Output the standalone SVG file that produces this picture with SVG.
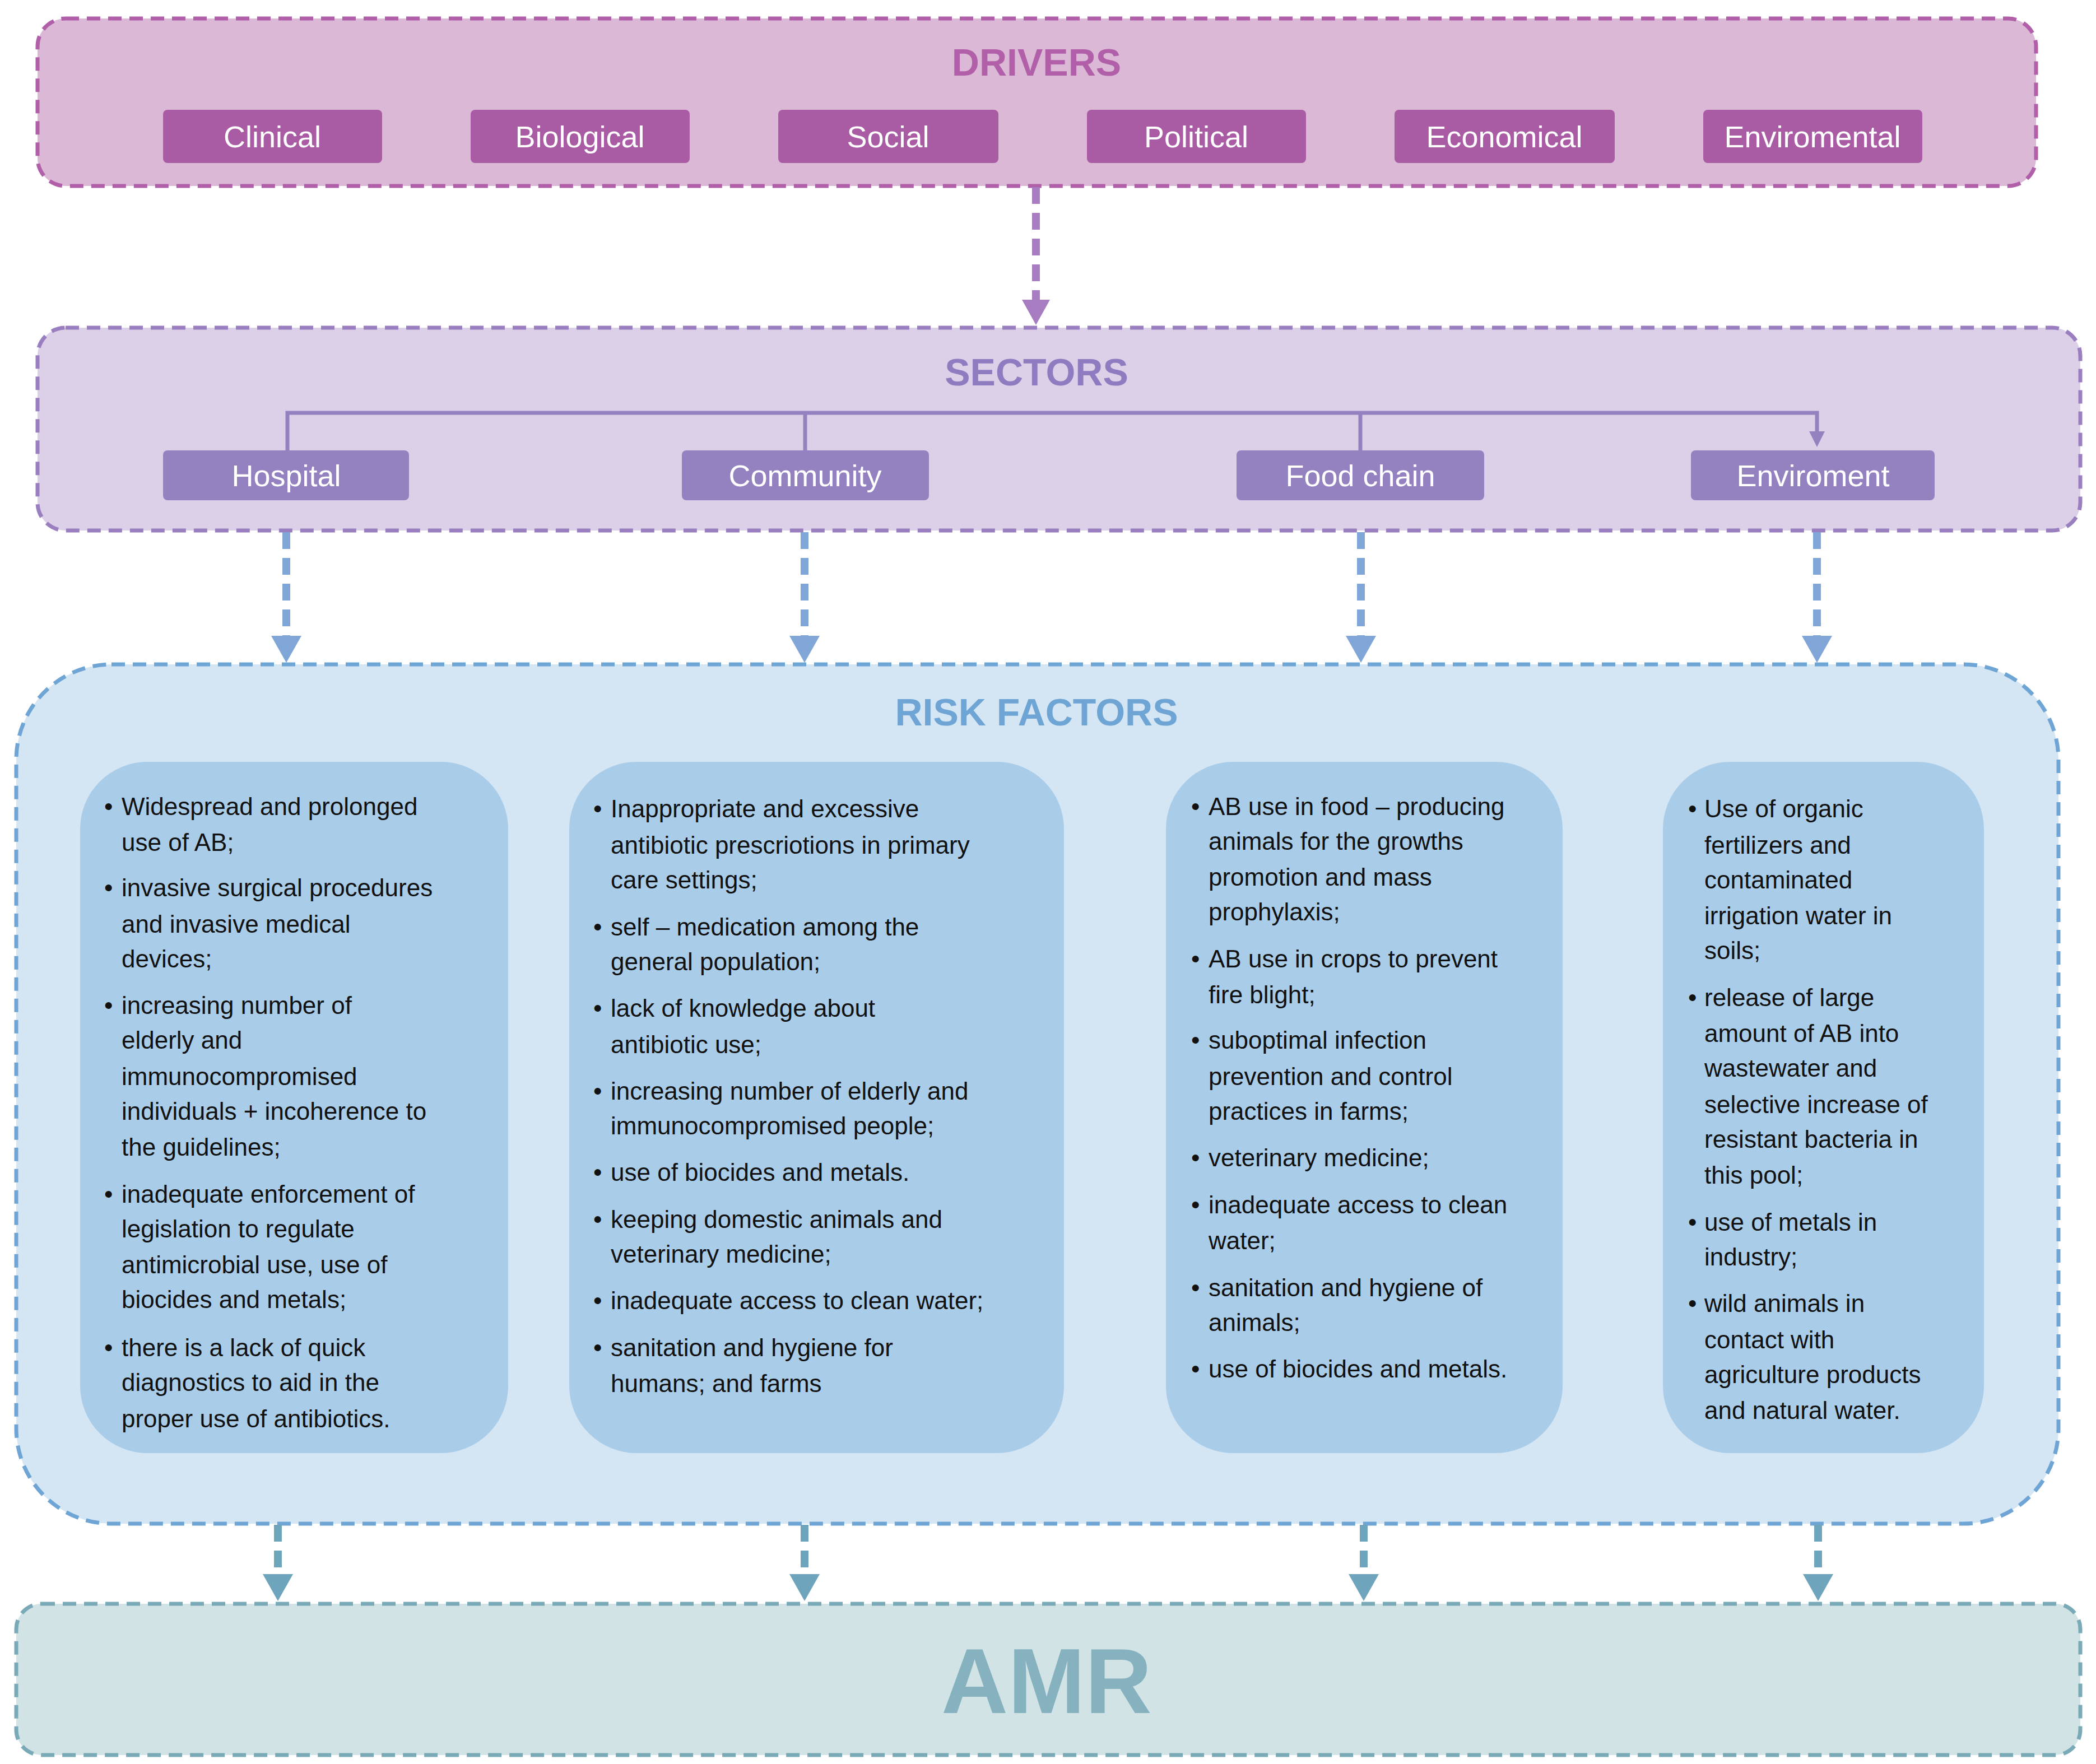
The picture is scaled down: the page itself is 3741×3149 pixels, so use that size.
<svg xmlns="http://www.w3.org/2000/svg" width="3741" height="3149" viewBox="0 0 3741 3149">
<style>
text{font-family:"Liberation Sans",Arial,sans-serif}
.pill{font-size:54px;fill:#fff;text-anchor:middle}
.t{font-size:44px;fill:#111}
.title{font-size:68px;font-weight:bold;text-anchor:middle}
</style>
<rect width="3741" height="3149" fill="#fff"/>
<g id="drivers">
<rect x="67" y="33" width="3567" height="299" rx="50" fill="#dbb8d6" stroke="#b05fa8" stroke-width="7" stroke-dasharray="24 14"/>
<text class="title" x="1850" y="135" fill="#b05fa8">DRIVERS</text>
<g fill="#a95ba4">
<rect x="291" y="196" width="391" height="95" rx="8"/><rect x="840" y="196" width="391" height="95" rx="8"/><rect x="1389" y="196" width="393" height="95" rx="8"/><rect x="1940" y="196" width="391" height="95" rx="8"/><rect x="2489" y="196" width="393" height="95" rx="8"/><rect x="3040" y="196" width="391" height="95" rx="8"/>
</g>
<text class="pill" x="486" y="263">Clinical</text><text class="pill" x="1035" y="263">Biological</text><text class="pill" x="1585" y="263">Social</text><text class="pill" x="2135" y="263">Political</text><text class="pill" x="2685" y="263">Economical</text><text class="pill" x="3235" y="263">Enviromental</text>
</g>
<g id="sectors">
<rect x="67" y="585" width="3646" height="362" rx="50" fill="#dccfe8" stroke="#9a7fc0" stroke-width="7" stroke-dasharray="24 14"/>
<text class="title" x="1850" y="688" fill="#8e7cc0">SECTORS</text>
<g fill="#9482c0">
<rect x="291" y="804" width="439" height="89" rx="8"/><rect x="1217" y="804" width="441" height="89" rx="8"/><rect x="2207" y="804" width="442" height="89" rx="8"/><rect x="3018" y="804" width="435" height="89" rx="8"/>
</g>
<text class="pill" x="511" y="868">Hospital</text><text class="pill" x="1437" y="868">Community</text><text class="pill" x="2428" y="868">Food chain</text><text class="pill" x="3236" y="868">Enviroment</text>
</g>
<g id="risk">
<rect x="29" y="1186" width="3645" height="1534" rx="170" fill="#d4e5f4" stroke="#6fa5d4" stroke-width="7" stroke-dasharray="24 14"/>
<text class="title" x="1850" y="1295" fill="#6fa5d4">RISK FACTORS</text>
<g fill="#a9cce8">
<rect x="143" y="1360" width="764" height="1234" rx="120"/><rect x="1016" y="1360" width="883" height="1234" rx="120"/><rect x="2081" y="1360" width="708" height="1234" rx="120"/><rect x="2968" y="1360" width="573" height="1234" rx="120"/>
</g>
<g class="t">
<text x="186" y="1455">•</text><text x="217" y="1455">Widespread and prolonged</text><text x="217" y="1519">use of AB;</text>
<text x="186" y="1600">•</text><text x="217" y="1600">invasive surgical procedures</text><text x="217" y="1665">and invasive medical</text><text x="217" y="1727">devices;</text>
<text x="186" y="1810">•</text><text x="217" y="1810">increasing number of</text><text x="217" y="1872">elderly and</text><text x="217" y="1937">immunocompromised</text><text x="217" y="1999">individuals + incoherence to</text><text x="217" y="2063">the guidelines;</text>
<text x="186" y="2147">•</text><text x="217" y="2147">inadequate enforcement of</text><text x="217" y="2209">legislation to regulate</text><text x="217" y="2273">antimicrobial use, use of</text><text x="217" y="2335">biocides and metals;</text>
<text x="186" y="2421">•</text><text x="217" y="2421">there is a lack of quick</text><text x="217" y="2483">diagnostics to aid in the</text><text x="217" y="2548">proper use of antibiotics.</text>

<text x="1059" y="1459">•</text><text x="1090" y="1459">Inappropriate and excessive</text><text x="1090" y="1524">antibiotic prescriotions in primary</text><text x="1090" y="1586">care settings;</text>
<text x="1059" y="1670">•</text><text x="1090" y="1670">self – medication among the</text><text x="1090" y="1732">general population;</text>
<text x="1059" y="1815">•</text><text x="1090" y="1815">lack of knowledge about</text><text x="1090" y="1880">antibiotic use;</text>
<text x="1059" y="1963">•</text><text x="1090" y="1963">increasing number of elderly and</text><text x="1090" y="2025">immunocompromised people;</text>
<text x="1059" y="2108">•</text><text x="1090" y="2108">use of biocides and metals.</text>
<text x="1059" y="2192">•</text><text x="1090" y="2192">keeping domestic animals and</text><text x="1090" y="2254">veterinary medicine;</text>
<text x="1059" y="2337">•</text><text x="1090" y="2337">inadequate access to clean water;</text>
<text x="1059" y="2421">•</text><text x="1090" y="2421">sanitation and hygiene for</text><text x="1090" y="2485">humans; and farms</text>

<text x="2126" y="1455">•</text><text x="2157" y="1455">AB use in food – producing</text><text x="2157" y="1517">animals for the growths</text><text x="2157" y="1581">promotion and mass</text><text x="2157" y="1643">prophylaxis;</text>
<text x="2126" y="1727">•</text><text x="2157" y="1727">AB use in crops to prevent</text><text x="2157" y="1791">fire blight;</text>
<text x="2126" y="1872">•</text><text x="2157" y="1872">suboptimal infection</text><text x="2157" y="1937">prevention and control</text><text x="2157" y="1999">practices in farms;</text>
<text x="2126" y="2082">•</text><text x="2157" y="2082">veterinary medicine;</text>
<text x="2126" y="2166">•</text><text x="2157" y="2166">inadequate access to clean</text><text x="2157" y="2230">water;</text>
<text x="2126" y="2314">•</text><text x="2157" y="2314">sanitation and hygiene of</text><text x="2157" y="2376">animals;</text>
<text x="2126" y="2459">•</text><text x="2157" y="2459">use of biocides and metals.</text>

<text x="3013" y="1459">•</text><text x="3042" y="1459">Use of organic</text><text x="3042" y="1524">fertilizers and</text><text x="3042" y="1586">contaminated</text><text x="3042" y="1650">irrigation water in</text><text x="3042" y="1712">soils;</text>
<text x="3013" y="1796">•</text><text x="3042" y="1796">release of large</text><text x="3042" y="1860">amount of AB into</text><text x="3042" y="1922">wastewater and</text><text x="3042" y="1987">selective increase of</text><text x="3042" y="2049">resistant bacteria in</text><text x="3042" y="2113">this pool;</text>
<text x="3013" y="2197">•</text><text x="3042" y="2197">use of metals in</text><text x="3042" y="2259">industry;</text>
<text x="3013" y="2342">•</text><text x="3042" y="2342">wild animals in</text><text x="3042" y="2407">contact with</text><text x="3042" y="2469">agriculture products</text><text x="3042" y="2533">and natural water.</text>
</g>
</g>
<g id="amr">
<rect x="29" y="2863" width="3684" height="270" rx="45" fill="#d2e3e5" stroke="#7aaab8" stroke-width="7" stroke-dasharray="24 14"/>
<text x="1868" y="3058" font-size="165" font-weight="bold" text-anchor="middle" fill="#86b2c0">AMR</text>
</g>
<g id="connectors">
<path d="M1849 334V540" stroke="#a87cc0" stroke-width="14" stroke-dasharray="30 16" fill="none"/>
<polygon points="1824,535 1874,535 1849,580" fill="#a87cc0"/>
<path d="M513 804V737H3243V770M1437 737V804M2428 737V804" stroke="#9482c0" stroke-width="7" fill="none"/>
<polygon points="3229,770 3257,770 3243,798" fill="#9482c0"/>
<g stroke="#7fa6d6" stroke-width="14" stroke-dasharray="30 16" fill="none">
<path d="M511 950V1140"/><path d="M1436 950V1140"/><path d="M2429 950V1140"/><path d="M3243 950V1140"/>
</g>
<g fill="#7fa6d6">
<polygon points="484,1135 538,1135 511,1183"/><polygon points="1409,1135 1463,1135 1436,1183"/><polygon points="2402,1135 2456,1135 2429,1183"/><polygon points="3216,1135 3270,1135 3243,1183"/>
</g>
<g stroke="#6fa5bc" stroke-width="14" stroke-dasharray="30 16" fill="none">
<path d="M496 2722V2815"/><path d="M1436 2722V2815"/><path d="M2434 2722V2815"/><path d="M3245 2722V2815"/>
</g>
<g fill="#6fa5bc">
<polygon points="469,2810 523,2810 496,2858"/><polygon points="1409,2810 1463,2810 1436,2858"/><polygon points="2407,2810 2461,2810 2434,2858"/><polygon points="3218,2810 3272,2810 3245,2858"/>
</g>
</g>
</svg>
